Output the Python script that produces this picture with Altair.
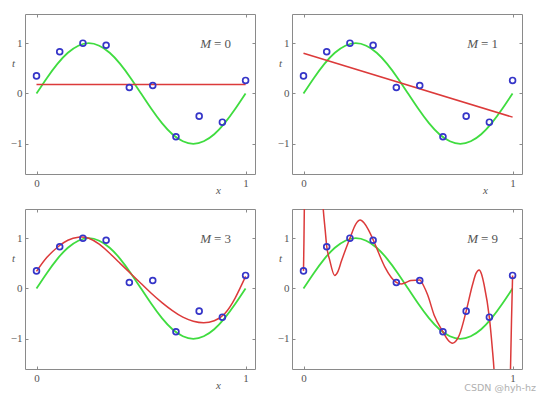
import altair as alt
import pandas as pd

# observed data points (blue circles)
x_data = [0.0, 0.111, 0.222, 0.333, 0.444, 0.556, 0.667, 0.778, 0.889, 1.0]
t_data = [0.35, 0.83, 1.0, 0.96, 0.12, 0.16, -0.86, -0.45, -0.57, 0.26]

# green curve
green_x = [0.0, 0.05, 0.1, 0.15, 0.2, 0.25, 0.3, 0.35, 0.4, 0.45, 0.5,
           0.55, 0.6, 0.65, 0.7, 0.75, 0.8, 0.85, 0.9, 0.95, 1.0]
green_t = [0.0, 0.31, 0.59, 0.81, 0.95, 1.0, 0.95, 0.81, 0.59, 0.31, 0.0,
           -0.31, -0.59, -0.81, -0.95, -1.0, -0.95, -0.81, -0.59, -0.31, 0.0]

# red fitted curves
m0_x = [0.0, 1.0]
m0_t = [0.18, 0.18]

m1_x = [0.0, 1.0]
m1_t = [0.80, -0.47]

m3_x = [0.0, 0.05, 0.106, 0.15, 0.2, 0.25, 0.3, 0.35, 0.4, 0.45, 0.5,
        0.55, 0.6, 0.65, 0.7, 0.75, 0.8, 0.85, 0.9, 0.95, 1.0]
m3_t = [0.34, 0.62, 0.84, 0.96, 1.02, 1.0, 0.88, 0.7, 0.5, 0.3, 0.1,
        -0.1, -0.28, -0.44, -0.57, -0.65, -0.68, -0.64, -0.5, -0.19, 0.24]

m9_x = [0.0, 0.002, 0.004, 0.01, 0.03, 0.05, 0.07, 0.085, 0.094, 0.104, 0.111,
        0.125, 0.149, 0.165, 0.181, 0.2, 0.222, 0.25, 0.271, 0.29, 0.31, 0.333,
        0.36, 0.39, 0.42, 0.444, 0.467, 0.49, 0.514, 0.556, 0.575, 0.594, 0.625,
        0.667, 0.69, 0.713, 0.73, 0.745, 0.778, 0.808, 0.825, 0.84, 0.852, 0.864,
        0.889, 0.903, 0.911, 0.92, 0.95, 0.975, 0.99, 0.995, 1.0]
m9_t = [0.35, 0.9, 1.6, 2.5, 4.0, 4.2, 3.5, 2.2, 1.6, 1.15, 0.84,
        0.57, 0.26, 0.34, 0.54, 0.76, 1.0, 1.28, 1.36, 1.3, 1.17, 0.97,
        0.7, 0.42, 0.22, 0.12, 0.09, 0.12, 0.16, 0.17, 0.05, -0.13, -0.53,
        -0.86, -1.02, -1.09, -1.04, -0.93, -0.45, 0.07, 0.3, 0.37, 0.28, 0.07,
        -0.58, -1.19, -1.6, -2.3, -3.5, -3.5, -1.6, -0.6, 0.26]

orders = ["0", "1", "3", "9"]

XDOM = [-0.055, 1.045]
YDOM = [-1.6, 1.58]
W, H = 230, 160

SERIF = "'Liberation Serif', 'DejaVu Serif', serif"
GREEN = "#3fdc3f"
RED = "#dc3a3a"
BLUE = "#3535c8"
TXT = "#555555"
FRAME = "#8a8a8a"


def panel(order, fx, ft, interp, watermark=False):
    xs = alt.Scale(domain=XDOM, nice=False, zero=False)
    ys = alt.Scale(domain=YDOM, nice=False, zero=False)
    common_axis = dict(domain=False, grid=False, tickSize=3, offset=-3,
                       tickColor=FRAME, tickWidth=1)
    xtitle = dict(title="x", titleFont=SERIF, titleFontStyle="italic",
                  titleFontWeight="normal", titleFontSize=11, titleColor=TXT,
                  titleX=193, titleY=19, titleAlign="center",
                  titleBaseline="middle")
    if watermark:
        xtitle = dict(title=None)
    green = alt.Chart(pd.DataFrame({"x": green_x, "t": green_t})).mark_line(
        color=GREEN, strokeWidth=1.8, interpolate="natural", clip=True
    ).encode(
        x=alt.X("x:Q", scale=xs, axis=alt.Axis(
            orient="bottom", values=[0, 1], format="d", labelPadding=3,
            labelFont=SERIF, labelFontSize=11, labelColor=TXT,
            **xtitle, **common_axis)),
        y=alt.Y("t:Q", scale=ys, axis=alt.Axis(
            orient="left", values=[-1, 0, 1], format="d", labelPadding=3,
            labelFont=SERIF, labelFontSize=11, labelColor=TXT,
            title="t", titleFont=SERIF, titleFontStyle="italic",
            titleFontWeight="normal", titleFontSize=11, titleColor=TXT,
            titleAngle=0, titleX=-15, titleY=49, titleAlign="center",
            titleBaseline="middle", **common_axis)),
    )
    red = alt.Chart(pd.DataFrame({"x": fx, "t": ft})).mark_line(
        color=RED, strokeWidth=1.5, interpolate=interp, clip=True
    ).encode(
        x=alt.X("x:Q", scale=xs, axis=None),
        y=alt.Y("t:Q", scale=ys, axis=None),
    )
    pts = alt.Chart(pd.DataFrame({"x": x_data, "t": t_data})).mark_point(
        shape="circle", filled=False, size=34, strokeWidth=1.7, color=BLUE,
        opacity=1
    ).encode(
        x=alt.X("x:Q", scale=xs, axis=alt.Axis(
            orient="top", values=[0, 1], labels=False, title=None, **common_axis)),
        y=alt.Y("t:Q", scale=ys, axis=alt.Axis(
            orient="right", values=[-1, 0, 1], labels=False, title=None, **common_axis)),
    )
    lab = pd.DataFrame({"x": [0.868], "t": [0.98], "m": ["M"], "r": [f"= {order}"]})
    m_txt = alt.Chart(lab).mark_text(
        font=SERIF, fontSize=13, color=TXT, fontStyle="italic", align="right", dx=-7
    ).encode(x=alt.X("x:Q", scale=xs, axis=None), y=alt.Y("t:Q", scale=ys, axis=None), text="m:N")
    r_txt = alt.Chart(lab).mark_text(
        font=SERIF, fontSize=13, color=TXT, align="left", dx=-4
    ).encode(x=alt.X("x:Q", scale=xs, axis=None), y=alt.Y("t:Q", scale=ys, axis=None), text="r:N")
    layers = [green, red, pts, m_txt, r_txt]
    if watermark:
        wm = alt.Chart(pd.DataFrame({"s": ["CSDN @hyh-hz"]})).mark_text(
            font="DejaVu Sans", fontSize=9.5, color="#b0b0b0", align="right"
        ).encode(x=alt.value(244), y=alt.value(179), text="s:N")
        layers.append(wm)
    return alt.layer(*layers).resolve_axis(
        x="independent", y="independent").properties(width=W, height=H)


p0 = panel(orders[0], m0_x, m0_t, "linear")
p1 = panel(orders[1], m1_x, m1_t, "linear")
p3 = panel(orders[2], m3_x, m3_t, "natural")
p9 = panel(orders[3], m9_x, m9_t, "monotone", watermark=True)

chart = alt.concat(
    p0, p1, p3, p9, columns=2, spacing={"row": 35, "column": 37}, bounds="flush"
).properties(
    padding={"left": 9, "top": 13, "right": 0, "bottom": 0},
    background="white",
).configure_view(stroke=FRAME, strokeWidth=1)

chart.save("out.html", embed_options={"renderer": "svg", "actions": False})
